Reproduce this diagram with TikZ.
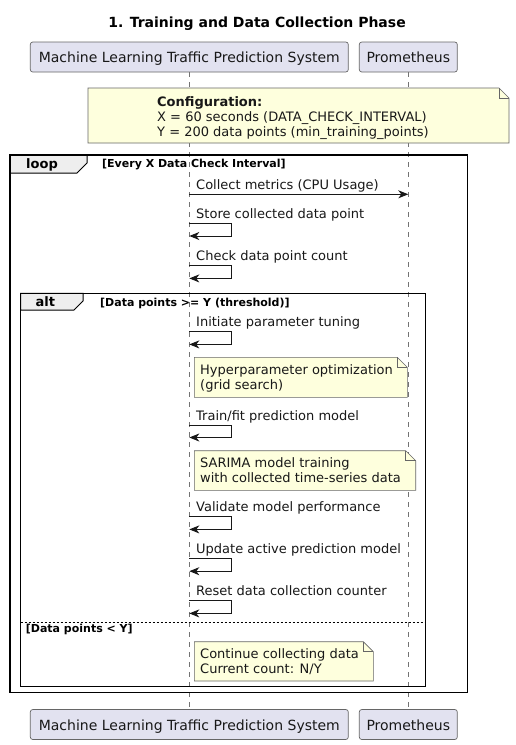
\documentclass[tikz,border=0pt]{standalone}
\usepackage{fontspec}
\setmainfont{DejaVu Sans}
\usetikzlibrary{arrows.meta}
\definecolor{partfill}{HTML}{E2E2F0}
\definecolor{notefill}{HTML}{FEFFDD}
\definecolor{tabfill}{HTML}{EEEEEE}
\definecolor{ink}{HTML}{181818}
\tikzset{
  participant/.style={draw=black!60, line width=0.7pt, fill=partfill, rounded corners=2.5pt,
    minimum height=30pt, inner sep=0pt, text height=11pt, text depth=0pt,
    font=\fontsize{14}{16}\selectfont, text=ink},
  lifeline/.style={draw=black!55, line width=0.6pt, dash pattern=on 5pt off 5pt},
  msg/.style={draw=ink, line width=1pt, -{Stealth[length=10pt,width=8pt,inset=3pt]}},
  msgtext/.style={anchor=base west, inner sep=0pt, font=\fontsize{13}{15}\selectfont, text=ink},
  notebox/.style={draw=black!60, line width=0.6pt, fill=notefill},
  notetext/.style={anchor=base west, inner sep=0pt, font=\fontsize{13}{15}\selectfont, text=ink},
  frameline/.style={draw=black, line width=1.5pt},
  tabshape/.style={draw=black, line width=1pt, fill=tabfill},
  tablabel/.style={anchor=base west, inner sep=0pt, font=\bfseries\fontsize{13}{15}\selectfont},
  guard/.style={anchor=base west, inner sep=0pt, font=\bfseries\fontsize{11}{13}\selectfont},
  separator/.style={draw=black, line width=0.8pt, dash pattern=on 2pt off 2pt},
}
\begin{document}
\begin{tikzpicture}[x=1pt, y=-1pt]
\path[use as bounding box, fill=white] (0,0) rectangle (515,745);

% title
\node[anchor=base, inner sep=0pt, font=\bfseries\fontsize{14}{16}\selectfont] (title) at (257,27.5) {1. Training and Data Collection Phase};

% participants
\node[participant, minimum width=318pt] (mlTop) at (189.3,57) {Machine Learning Traffic Prediction System};
\node[participant, minimum width=98pt] (prTop) at (408.3,57) {Prometheus};
\node[participant, minimum width=318pt] (mlBot) at (189.3,724.5) {Machine Learning Traffic Prediction System};
\node[participant, minimum width=98pt] (prBot) at (408.3,724.5) {Prometheus};

% lifelines
\draw[lifeline] (mlTop.south) -- (mlBot.north);
\draw[lifeline] (prTop.south) -- (prBot.north);

% configuration note
\draw[notebox] (88,88) -- (499,88) -- (509,98) -- (509,143) -- (88,143) -- cycle;
\draw[draw=black!60, line width=0.6pt] (499,88) -- (499,98) -- (509,98);
\node[notetext, font=\bfseries\fontsize{13}{15}\selectfont] (cfg1) at (157,106) {Configuration:};
\node[notetext] (cfg2) at (157,121) {X = 60 seconds (DATA\_CHECK\_INTERVAL)};
\node[notetext] (cfg3) at (157,136) {Y = 200 data points (min\_training\_points)};

% loop frame
\draw[tabshape] (10,155) -- (87,155) -- (87,163) -- (77,173) -- (10,173) -- cycle;
\draw[frameline] (10,155) rectangle (467.5,692.5);
\node[tablabel] (loopLbl) at (26,168.3) {loop};
\node[guard] (loopGuard) at (102,167.5) {[Every X Data Check Interval]};

% message 1
\coordinate (m1a) at (189.3,194.3);
\coordinate (m1b) at (408.3,194.3);
\node[msgtext] (m1t) at (196,189.3) {Collect metrics (CPU Usage)};
\draw[msg] (m1a) -- (m1b);

% self messages
\coordinate (s2a) at (189.3,223.3); \coordinate (s2b) at (189.3,236);
\node[msgtext] (s2t) at (196,218.3) {Store collected data point};
\draw[msg] (s2a) -- ++(42,0) |- (s2b);

\coordinate (s3a) at (189.3,265.7); \coordinate (s3b) at (189.3,278.4);
\node[msgtext] (s3t) at (196,260.7) {Check data point count};
\draw[msg] (s3a) -- ++(42,0) |- (s3b);

% alt frame
\draw[tabshape] (20.7,293.3) -- (83,293.3) -- (83,301) -- (74,310) -- (20.7,310) -- cycle;
\draw[frameline] (20.7,293.3) rectangle (425.7,686.3);
\node[tablabel] (altLbl) at (35.5,306.5) {alt};
\node[guard] (altGuard) at (100,306) {[Data points >= Y (threshold)]};

\coordinate (s4a) at (189.3,331.7); \coordinate (s4b) at (189.3,344.4);
\node[msgtext] (s4t) at (196,326.7) {Initiate parameter tuning};
\draw[msg] (s4a) -- ++(42,0) |- (s4b);

% note hyperparameter
\draw[notebox] (194.3,357.3) -- (397.3,357.3) -- (407.3,367.3) -- (407.3,397.3) -- (194.3,397.3) -- cycle;
\draw[draw=black!60, line width=0.6pt] (397.3,357.3) -- (397.3,367.3) -- (407.3,367.3);
\node[notetext] (n1a) at (200,374.5) {Hyperparameter optimization};
\node[notetext] (n1b) at (200,389) {(grid search)};

\coordinate (s5a) at (189.3,425); \coordinate (s5b) at (189.3,437.5);
\node[msgtext] (s5t) at (196,420) {Train/fit prediction model};
\draw[msg] (s5a) -- ++(42,0) |- (s5b);

% note SARIMA
\draw[notebox] (194.3,450.7) -- (405.7,450.7) -- (415.7,460.7) -- (415.7,490.3) -- (194.3,490.3) -- cycle;
\draw[draw=black!60, line width=0.6pt] (405.7,450.7) -- (405.7,460.7) -- (415.7,460.7);
\node[notetext] (n2a) at (200,467.3) {SARIMA model training};
\node[notetext] (n2b) at (200,482) {with collected time-series data};

\coordinate (s6a) at (189.3,516.7); \coordinate (s6b) at (189.3,529.4);
\node[msgtext] (s6t) at (196,511.7) {Validate model performance};
\draw[msg] (s6a) -- ++(42,0) |- (s6b);

\coordinate (s7a) at (189.3,558.7); \coordinate (s7b) at (189.3,571.2);
\node[msgtext] (s7t) at (196,553.7) {Update active prediction model};
\draw[msg] (s7a) -- ++(42,0) |- (s7b);

\coordinate (s8a) at (189.3,600.7); \coordinate (s8b) at (189.3,613.4);
\node[msgtext] (s8t) at (196,595.7) {Reset data collection counter};
\draw[msg] (s8a) -- ++(42,0) |- (s8b);

% else separator
\coordinate (sepL) at (20.7,622.3); \coordinate (sepR) at (425.7,622.3);
\draw[separator] (sepL) -- (sepR);
\node[guard] (elseGuard) at (25.7,632.7) {[Data points < Y]};

% note continue
\draw[notebox] (194.3,641.7) -- (363.3,641.7) -- (373.3,651.7) -- (373.3,681) -- (194.3,681) -- cycle;
\draw[draw=black!60, line width=0.6pt] (363.3,641.7) -- (363.3,651.7) -- (373.3,651.7);
\node[notetext] (n3a) at (200,658.5) {Continue collecting data};
\node[notetext] (n3b) at (200,673.5) {Current count: N/Y};
\end{tikzpicture}
\end{document}
